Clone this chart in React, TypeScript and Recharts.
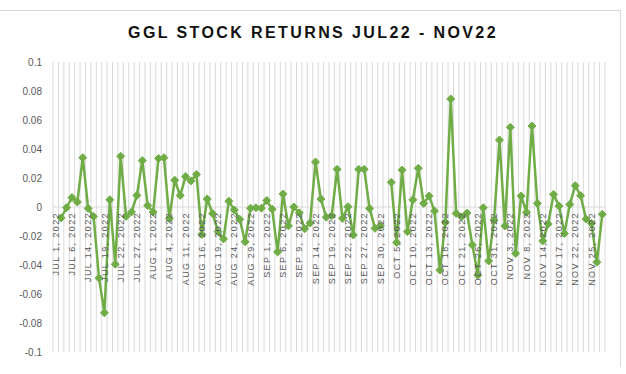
import React from 'react';
import {
  LineChart,
  Line,
  XAxis,
  YAxis,
  CartesianGrid,
  ReferenceLine,
} from 'recharts';

// trading days shown on the category axis (PSX calendar)
const dates = [
  'JUL 1, 2022', 'JUL 4, 2022', 'JUL 5, 2022', 'JUL 6, 2022', 'JUL 7, 2022', 'JUL 13, 2022',
  'JUL 14, 2022', 'JUL 15, 2022', 'JUL 18, 2022', 'JUL 19, 2022', 'JUL 20, 2022', 'JUL 21, 2022',
  'JUL 22, 2022', 'JUL 25, 2022', 'JUL 26, 2022', 'JUL 27, 2022', 'JUL 28, 2022', 'JUL 29, 2022',
  'AUG 1, 2022', 'AUG 2, 2022', 'AUG 3, 2022', 'AUG 4, 2022', 'AUG 5, 2022', 'AUG 10, 2022',
  'AUG 11, 2022', 'AUG 12, 2022', 'AUG 15, 2022', 'AUG 16, 2022', 'AUG 17, 2022', 'AUG 18, 2022',
  'AUG 19, 2022', 'AUG 22, 2022', 'AUG 23, 2022', 'AUG 24, 2022', 'AUG 25, 2022', 'AUG 26, 2022',
  'AUG 29, 2022', 'AUG 30, 2022', 'AUG 31, 2022', 'SEP 1, 2022', 'SEP 2, 2022', 'SEP 5, 2022',
  'SEP 6, 2022', 'SEP 7, 2022', 'SEP 8, 2022', 'SEP 9, 2022', 'SEP 12, 2022', 'SEP 13, 2022',
  'SEP 14, 2022', 'SEP 15, 2022', 'SEP 16, 2022', 'SEP 19, 2022', 'SEP 20, 2022', 'SEP 21, 2022',
  'SEP 22, 2022', 'SEP 23, 2022', 'SEP 26, 2022', 'SEP 27, 2022', 'SEP 28, 2022', 'SEP 29, 2022',
  'SEP 30, 2022', 'OCT 3, 2022', 'OCT 4, 2022', 'OCT 5, 2022', 'OCT 6, 2022', 'OCT 7, 2022',
  'OCT 10, 2022', 'OCT 11, 2022', 'OCT 12, 2022', 'OCT 13, 2022', 'OCT 14, 2022', 'OCT 17, 2022',
  'OCT 18, 2022', 'OCT 19, 2022', 'OCT 20, 2022', 'OCT 21, 2022', 'OCT 24, 2022', 'OCT 25, 2022',
  'OCT 26, 2022', 'OCT 27, 2022', 'OCT 28, 2022', 'OCT 31, 2022', 'NOV 1, 2022', 'NOV 2, 2022',
  'NOV 3, 2022', 'NOV 4, 2022', 'NOV 7, 2022', 'NOV 8, 2022', 'NOV 10, 2022', 'NOV 11, 2022',
  'NOV 14, 2022', 'NOV 15, 2022', 'NOV 16, 2022', 'NOV 17, 2022', 'NOV 18, 2022', 'NOV 21, 2022',
  'NOV 22, 2022', 'NOV 23, 2022', 'NOV 24, 2022', 'NOV 25, 2022', 'NOV 28, 2022', 'NOV 29, 2022',
];

// daily returns, null where there is no value
const returns: (number | null)[] = [
  null, -0.0075, -0.0005, 0.0065, 0.0035, 0.034,
  -0.001, -0.0065, -0.049, -0.073, 0.005, -0.0395,
  0.035, -0.0065, -0.0035, 0.008, 0.032, 0.001,
  -0.0035, 0.0335, 0.034, -0.008, 0.0185, 0.008,
  0.021, 0.018, 0.0225, -0.019, 0.0055, -0.0045,
  -0.017, -0.022, 0.004, -0.002, -0.0085, -0.024,
  -0.0008, -0.0005, -0.0008, 0.0045, -0.0015, -0.031,
  0.009, -0.013, 0.0, -0.004, -0.015, -0.011,
  0.031, 0.0055, -0.007, -0.006, 0.026, -0.0078,
  0.0002, -0.0193, 0.026, 0.026, -0.001, -0.0147,
  -0.013, null, 0.017, -0.0245, 0.0255, -0.017,
  0.005, 0.0267, 0.0025, 0.0076, -0.0028, -0.0435,
  -0.0105, 0.0745, -0.0044, -0.0068, -0.0042, -0.0262,
  -0.047, -0.0005, -0.0372, -0.009, 0.0462, -0.0131,
  0.055, -0.032, 0.0076, -0.0037, 0.0559, 0.0025,
  -0.0234, -0.0117, 0.0087, 0.0007, -0.0182, 0.0018,
  0.0147, 0.0078, -0.0083, -0.0113, -0.0381, -0.005,
];

const yTicks = [-0.1, -0.08, -0.06, -0.04, -0.02, 0, 0.02, 0.04, 0.06, 0.08, 0.1];

const CHART_W = 626;
const CHART_H = 374;
const X_AXIS_H = 2;
const MARGIN = { top: 62, right: 21, bottom: 20, left: 0 };
const ZERO_Y = MARGIN.top + (CHART_H - MARGIN.top - MARGIN.bottom - X_AXIS_H) / 2;
const GREEN = '#70AD47';
const GRID = '#d9d9d9';
const TEXT = '#595959';

const data = dates.map((date, i) => ({ date, ret: returns[i] }));

// category labels sit on the zero line, rotated
const DateTick = (props: any) => {
  const { x, payload } = props;
  const y = ZERO_Y + 5;
  return (
    <text
      x={x}
      y={y}
      dy="0.35em"
      transform={`rotate(-90, ${x}, ${y})`}
      textAnchor="end"
      fill={TEXT}
      fontSize={9}
      letterSpacing={1.4}
      fontFamily="Liberation Sans, Arial, sans-serif"
    >
      {payload.value}
    </text>
  );
};

const Diamond = ({ cx, cy }: any) => {
  if (cx == null || cy == null) return null;
  const r = 4;
  return (
    <polygon
      points={`${cx},${cy - r} ${cx + r},${cy} ${cx},${cy + r} ${cx - r},${cy}`}
      fill={GREEN}
      stroke={GREEN}
      strokeWidth={1}
    />
  );
};

export default function App() {
  return (
    <div
      style={{
        position: 'fixed',
        left: 0,
        top: 0,
        width: CHART_W,
        height: CHART_H,
        background: '#fff',
        fontFamily: 'Liberation Sans, Arial, sans-serif',
        overflow: 'hidden',
      }}
    >
      {/* chart area frame */}
      <div
        style={{
          position: 'absolute',
          left: -2,
          top: 10,
          width: 622,
          height: 356,
          borderTop: `1px solid ${GRID}`,
          borderRight: `1px solid ${GRID}`,
        }}
      />
      <div
        style={{
          position: 'absolute',
          top: 23,
          left: 0,
          width: CHART_W,
          textAlign: 'center',
          fontSize: 16,
          lineHeight: '20px',
          fontWeight: 'bold',
          letterSpacing: 2.4,
          color: '#111',
        }}
      >
        GGL STOCK RETURNS JUL22 - NOV22
      </div>
      <LineChart width={CHART_W} height={CHART_H} data={data} margin={MARGIN}>
        <CartesianGrid
          horizontal={false}
          stroke={GRID}
          verticalCoordinatesGenerator={({ offset }: any) =>
            Array.from({ length: dates.length + 1 }, (_, i) => offset.left + (i * offset.width) / dates.length)
          }
        />
        <XAxis
          dataKey="date"
          scale="band"
          interval={2}
          height={X_AXIS_H}
          axisLine={false}
          tickLine={false}
          tick={(p: any) => <DateTick {...p} />}
        />
        <YAxis
          domain={[-0.1, 0.1]}
          ticks={yTicks}
          width={53}
          axisLine={false}
          tickLine={false}
          tickMargin={5}
          tick={{ fill: TEXT, fontSize: 10 }}
          tickFormatter={(v: number) => String(Number(v.toFixed(2)))}
        />
        <ReferenceLine y={0} stroke={GRID} strokeWidth={1} />
        <Line
          dataKey="ret"
          stroke={GREEN}
          strokeWidth={2.5}
          dot={<Diamond />}
          activeDot={false}
          connectNulls={false}
          isAnimationActive={false}
        />
      </LineChart>
    </div>
  );
}
